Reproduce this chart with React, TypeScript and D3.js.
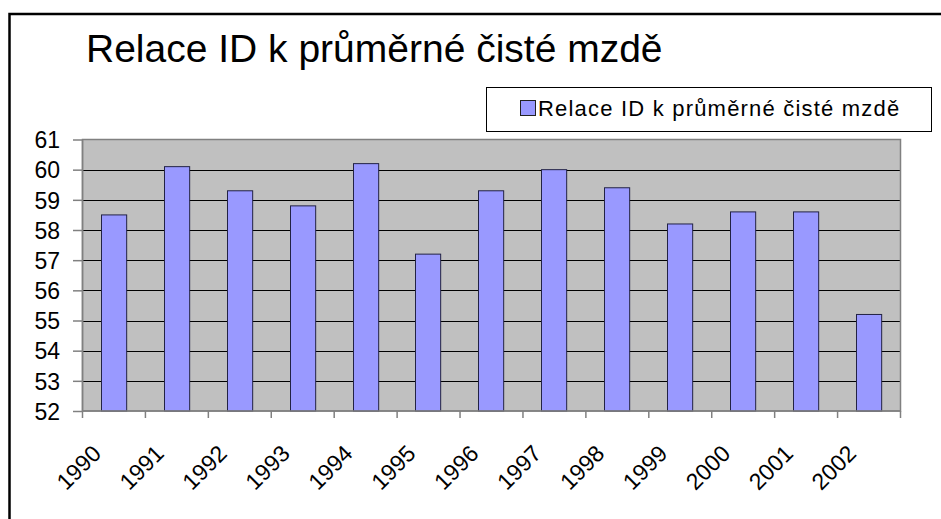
import * as React from "react";
import * as d3 from "d3";

const years = ["1990", "1991", "1992", "1993", "1994", "1995", "1996", "1997", "1998", "1999", "2000", "2001", "2002"];
const relace = [58.5, 60.1, 59.3, 58.8, 60.2, 57.2, 59.3, 60.0, 59.4, 58.2, 58.6, 58.6, 55.2];
const yTicks = [52, 53, 54, 55, 56, 57, 58, 59, 60, 61];
const title = "Relace ID k průměrné čisté mzdě";
const seriesName = "Relace ID k průměrné čisté mzdě";

const font = "'Liberation Sans', Arial, sans-serif";

function drawChart(svgRef: React.RefObject<SVGSVGElement | null>) {
  const width = 941;
  const height = 519;
  const plot = { left: 82, right: 900, top: 139.5, bottom: 411 };

  const x = d3.scaleBand().domain(years).range([plot.left, plot.right]).paddingInner(0.6).paddingOuter(0.3);
  const band = d3.scaleBand().domain(years).range([plot.left, plot.right]);
  const y = d3.scaleLinear().domain([52, 61]).range([plot.bottom, plot.top]);

  const svg = d3.select(svgRef.current).attr("width", width).attr("height", height);
  svg.selectAll("*").remove();

  svg.append("rect").attr("width", width).attr("height", height).attr("fill", "#fff");

  // outer frame
  svg
    .append("rect")
    .attr("x", 9.5)
    .attr("y", 14)
    .attr("width", 1000)
    .attr("height", 600)
    .attr("fill", "none")
    .attr("stroke", "#000")
    .attr("stroke-width", 2.5);

  svg
    .append("text")
    .text(title)
    .attr("x", 86)
    .attr("y", 62)
    .attr("font-family", font)
    .attr("font-size", 39)
    .attr("fill", "#000");

  // legend
  const lg = svg.append("g");
  lg.append("rect")
    .attr("x", 486.5)
    .attr("y", 87.5)
    .attr("width", 445)
    .attr("height", 44)
    .attr("fill", "#fff")
    .attr("stroke", "#000")
    .attr("stroke-width", 1);
  lg.append("rect")
    .attr("x", 520.5)
    .attr("y", 100.5)
    .attr("width", 15)
    .attr("height", 15)
    .attr("fill", "#9999FF")
    .attr("stroke", "#222")
    .attr("stroke-width", 1);
  lg.append("text")
    .text(seriesName)
    .attr("x", 538)
    .attr("y", 116)
    .attr("font-family", font)
    .attr("font-size", 22)
    .attr("letter-spacing", 1.2)
    .attr("fill", "#000");

  // plot background
  svg
    .append("rect")
    .attr("x", plot.left)
    .attr("y", plot.top)
    .attr("width", plot.right - plot.left)
    .attr("height", plot.bottom - plot.top)
    .attr("fill", "#C0C0C0");

  // gridlines
  svg
    .append("g")
    .selectAll("line")
    .data(yTicks.filter((t) => t > 52 && t < 61))
    .enter()
    .append("line")
    .attr("x1", plot.left)
    .attr("x2", plot.right)
    .attr("y1", (d) => Math.round(y(d)) + 0.5)
    .attr("y2", (d) => Math.round(y(d)) + 0.5)
    .attr("stroke", "#000")
    .attr("stroke-width", 1);

  svg
    .append("rect")
    .attr("x", plot.left + 0.5)
    .attr("y", plot.top)
    .attr("width", plot.right - plot.left)
    .attr("height", plot.bottom - plot.top)
    .attr("fill", "none")
    .attr("stroke", "#808080")
    .attr("stroke-width", 1.5);

  // bars
  svg
    .append("g")
    .selectAll("rect")
    .data(relace)
    .enter()
    .append("rect")
    .attr("x", (d, i) => Math.round(x(years[i])!) + 0.5)
    .attr("y", (d) => y(d))
    .attr("width", x.bandwidth())
    .attr("height", (d) => plot.bottom - y(d))
    .attr("fill", "#9999FF")
    .attr("stroke", "#222244")
    .attr("stroke-width", 1);

  // y axis
  const yAxis = svg.append("g").attr("transform", `translate(${plot.left},0)`);
  yAxis
    .call(d3.axisLeft(y).tickValues(yTicks).tickSize(9).tickSizeOuter(0).tickPadding(13).tickFormat(d3.format("d")))
    .attr("font-family", font)
    .attr("font-size", 23);
  yAxis.select(".domain").attr("stroke", "#808080").attr("stroke-width", 1.5);
  yAxis.selectAll(".tick line").attr("stroke", "#808080").attr("stroke-width", 1.5);
  yAxis.selectAll(".tick text").attr("fill", "#000").attr("dy", "0.36em");

  // x axis: ticks at band boundaries
  const xg = svg.append("g");
  xg.append("line")
    .attr("x1", plot.left)
    .attr("x2", plot.right)
    .attr("y1", plot.bottom)
    .attr("y2", plot.bottom)
    .attr("stroke", "#808080")
    .attr("stroke-width", 1.5);
  xg.selectAll(".xt")
    .data([...years.map((yr) => band(yr)!), plot.right])
    .enter()
    .append("line")
    .attr("x1", (d) => d + 0.5)
    .attr("x2", (d) => d + 0.5)
    .attr("y1", plot.bottom)
    .attr("y2", plot.bottom + 7)
    .attr("stroke", "#808080")
    .attr("stroke-width", 1.5);
  xg.selectAll(".xl")
    .data(years)
    .enter()
    .append("text")
    .text((d) => d)
    .attr("transform", (d) => `translate(${band(d)! + band.bandwidth() / 2 - 11},${plot.bottom + 44}) rotate(-45)`)
    .attr("text-anchor", "end")
    .attr("font-family", font)
    .attr("font-size", 23)
    .attr("fill", "#000");
}

const App = () => {
  const svgRef = React.useRef<SVGSVGElement>(null);

  React.useEffect(() => {
    drawChart(svgRef);
  }, [svgRef]);

  return (
    <div style={{ position: "fixed", left: 0, top: 0 }}>
      <svg ref={svgRef} style={{ display: "block" }} />
    </div>
  );
};

export default App;
